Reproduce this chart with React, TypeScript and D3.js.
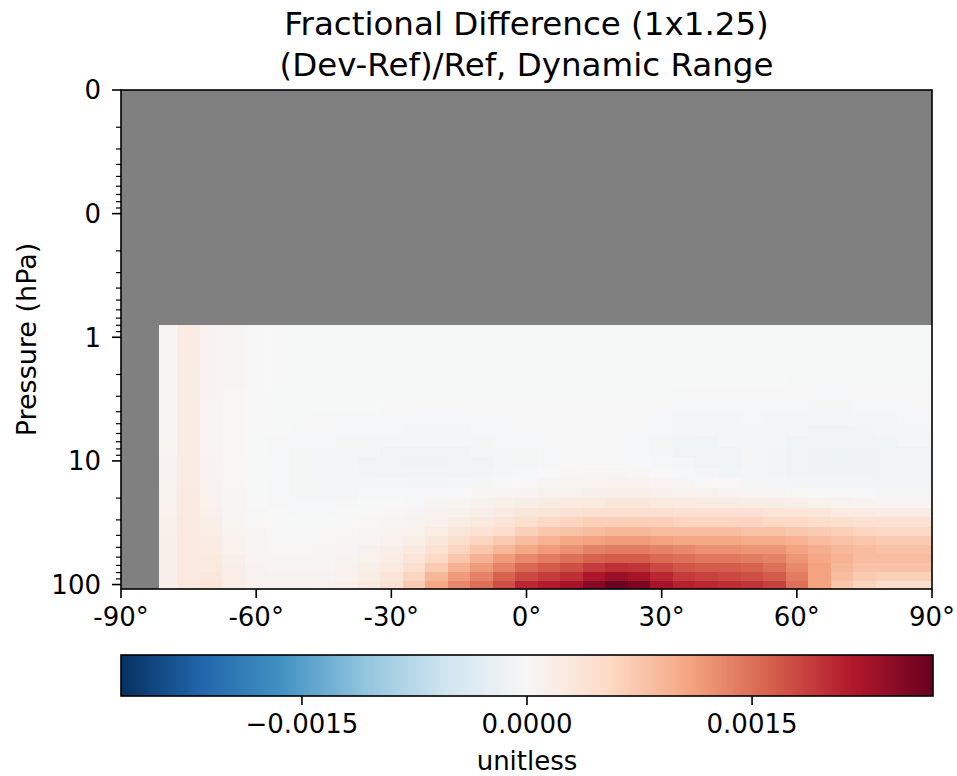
import React from 'react';
import * as d3 from 'd3';

// ---------- data ----------
const LAT_CENTERS = [-80, -75, -70, -65, -60, -55, -50, -45, -40, -35, -30, -25, -20, -15, -10, -5, 0, 5, 10, 15, 20, 25, 30, 35, 40, 45, 50, 55, 60, 65, 70, 75, 80, 85, 90];
const LAT_VALID_MIN = -81.5;
const LAT_VALID_MAX = 90;
const LAT_HALF_WIDTH = 2.5;

// level edges (hPa), bottom -> top
const PRESSURE_EDGES = [108.663, 92.3657, 78.5123, 66.6034, 56.3879, 47.6439, 40.1754, 33.81, 28.3678, 23.7304, 19.7916, 16.4571, 13.6434, 11.2769, 9.2929, 7.6198, 6.2168, 5.0468, 4.0766, 3.2764, 2.6202, 2.085, 1.6508, 1.3005, 1.0194, 0.7951];

// fractional difference in units of 1e-4, rows bottom -> top, columns = LAT_CENTERS
const VALUE_UNIT = 1e-4;
const FRAC_DIFF = [
  [1.5, 2.8, 3.5, 2, 1, 0.8, 0.8, 1, 1.5, 2.5, 4, 7, 10.5, 13, 15, 17.5, 20.5, 21.5, 22.5, 25, 27, 25.5, 22.5, 21, 20.5, 20, 19.5, 18.5, 15, 11, 7.5, 6, 5, 5, 5],
  [1.5, 2.8, 3.2, 2, 1, 0.7, 0.7, 0.8, 1.2, 2, 3.5, 6, 9, 11.5, 13.5, 16, 18, 19, 20, 22, 23.5, 22.5, 20.5, 19, 18.5, 18, 17.5, 16.5, 14, 11, 8.5, 7, 6.5, 6.5, 6.5],
  [1.5, 2.8, 2.8, 1.8, 0.8, 0.5, 0.5, 0.6, 1, 1.5, 2.5, 4.5, 7, 9.5, 11.5, 13.5, 15.5, 16.5, 17.5, 19, 20, 19.5, 18, 17, 16.5, 16.5, 16, 15, 13, 11, 9, 8, 8, 8, 8],
  [1.5, 2.8, 2.6, 1.5, 0.6, 0.3, 0.3, 0.4, 0.7, 1.2, 2, 3.5, 5.5, 7.5, 9.5, 11.5, 13, 14, 15, 16, 16.5, 16.5, 15.5, 15, 14.5, 14.5, 14, 13.5, 12, 10.5, 9.5, 8.5, 8.5, 8.5, 8.5],
  [1.5, 2.8, 2.3, 1.2, 0.5, 0.2, 0.2, 0.3, 0.5, 0.9, 1.5, 2.5, 4, 6, 7.5, 9, 10.5, 11.5, 12.5, 13.5, 14, 14, 13.5, 13, 12.5, 12.5, 12, 12, 11, 10, 9, 8.5, 8, 8, 8],
  [1.5, 2.8, 2.1, 1, 0.4, 0.1, 0.1, 0.2, 0.3, 0.6, 1, 1.8, 3, 4.5, 6, 7, 8.5, 9.5, 10.5, 11, 11.5, 11.5, 11, 10.5, 10.5, 10.5, 10, 10, 9.5, 8.5, 8, 7.5, 7, 7, 7],
  [1.4, 2.8, 1.9, 0.8, 0.3, 0, 0, 0, 0.2, 0.4, 0.7, 1.2, 2, 3, 4, 5, 6.5, 7.5, 8, 8.5, 9, 9, 8.5, 8.5, 8.5, 8.5, 8, 8, 7.5, 7, 6.5, 6, 5.5, 5.5, 5.5],
  [1.3, 2.7, 1.7, 0.6, 0.2, 0, -0.1, -0.1, 0, 0.2, 0.4, 0.7, 1.2, 2, 2.8, 3.5, 4.5, 5.5, 6, 6.5, 6.5, 6.5, 6.5, 6, 6, 6, 6, 5.5, 5.5, 5, 4.5, 4, 4, 4, 4],
  [1.2, 2.6, 1.4, 0.5, 0.1, -0.1, -0.2, -0.2, -0.1, 0, 0.2, 0.4, 0.7, 1.2, 1.8, 2.5, 3, 3.5, 4, 4.5, 4.5, 4.5, 4.5, 4, 4, 4, 4, 3.5, 3.5, 3, 2.5, 2.5, 2, 2, 2],
  [1, 2.5, 1.2, 0.4, 0, -0.2, -0.3, -0.3, -0.2, -0.1, 0, 0.1, 0.3, 0.6, 1, 1.3, 1.8, 2.2, 2.5, 2.8, 3, 3, 2.8, 2.5, 2.3, 2.2, 2, 1.8, 1.5, 1.2, 1, 0.8, 0.5, 0.5, 0.5],
  [1, 2.4, 1.1, 0.3, 0, -0.3, -0.4, -0.4, -0.4, -0.3, -0.3, -0.3, -0.2, 0, 0.3, 0.6, 0.8, 1, 1.2, 1.5, 1.6, 1.6, 1.4, 1.2, 1, 0.8, 0.6, 0.4, 0.2, 0, -0.2, -0.3, -0.4, -0.4, -0.4],
  [0.8, 2.3, 0.9, 0.2, -0.1, -0.3, -0.4, -0.5, -0.5, -0.5, -0.6, -0.7, -0.7, -0.6, -0.4, -0.2, 0, 0.3, 0.5, 0.6, 0.7, 0.7, 0.5, 0.3, 0, -0.2, -0.4, -0.6, -0.7, -0.8, -0.9, -1, -1, -0.8, -0.8],
  [0.8, 2.3, 0.8, 0.2, -0.2, -0.3, -0.4, -0.5, -0.6, -0.7, -0.9, -1, -1, -0.9, -0.7, -0.5, -0.3, 0, 0.2, 0.3, 0.3, 0.2, 0, -0.3, -0.6, -0.7, -0.6, -0.7, -0.9, -1.1, -1.2, -1.1, -1, -0.9, -0.9],
  [0.7, 2.2, 0.7, 0.2, -0.2, -0.3, -0.4, -0.5, -0.6, -0.8, -1, -1.1, -1.1, -1, -0.8, -0.6, -0.4, -0.2, 0, 0, 0, -0.1, -0.3, -0.6, -0.9, -0.8, -0.6, -0.7, -1, -1.2, -1.3, -1.2, -1, -0.9, -0.9],
  [0.6, 2.2, 0.6, 0.2, -0.1, -0.3, -0.4, -0.5, -0.5, -0.6, -0.8, -0.9, -0.9, -0.8, -0.6, -0.5, -0.4, -0.3, -0.2, -0.2, -0.2, -0.3, -0.5, -0.8, -1, -0.8, -0.6, -0.7, -1, -1.2, -1.2, -1.1, -0.9, -0.8, -0.8],
  [0.6, 2.2, 0.6, 0.2, -0.1, -0.2, -0.3, -0.3, -0.4, -0.4, -0.5, -0.6, -0.6, -0.5, -0.4, -0.3, -0.3, -0.2, -0.2, -0.2, -0.2, -0.3, -0.4, -0.7, -0.8, -0.6, -0.5, -0.6, -0.8, -1, -1, -0.9, -0.7, -0.6, -0.6],
  [0.5, 2.2, 0.6, 0.2, 0, -0.1, -0.2, -0.2, -0.3, -0.3, -0.3, -0.4, -0.4, -0.4, -0.3, -0.3, -0.2, -0.2, -0.2, -0.2, -0.2, -0.2, -0.3, -0.5, -0.6, -0.5, -0.4, -0.5, -0.6, -0.8, -0.8, -0.7, -0.5, -0.4, -0.4],
  [0.5, 2.2, 0.6, 0.2, 0, -0.1, -0.1, -0.2, -0.2, -0.2, -0.2, -0.3, -0.3, -0.3, -0.2, -0.2, -0.2, -0.2, -0.2, -0.2, -0.2, -0.2, -0.3, -0.4, -0.5, -0.4, -0.3, -0.4, -0.5, -0.6, -0.6, -0.5, -0.4, -0.3, -0.3],
  [0.5, 2.2, 0.6, 0.2, 0, -0.1, -0.1, -0.1, -0.1, -0.1, -0.2, -0.2, -0.2, -0.2, -0.2, -0.2, -0.2, -0.2, -0.2, -0.2, -0.2, -0.2, -0.2, -0.3, -0.3, -0.3, -0.2, -0.3, -0.3, -0.4, -0.4, -0.3, -0.3, -0.2, -0.2],
  [0.5, 2.2, 0.7, 0.2, 0, -0.1, -0.1, -0.1, -0.1, -0.1, -0.1, -0.1, -0.1, -0.1, -0.1, -0.1, -0.1, -0.1, -0.1, -0.1, -0.1, -0.1, -0.1, -0.2, -0.2, -0.2, -0.2, -0.2, -0.2, -0.3, -0.3, -0.2, -0.2, -0.2, -0.2],
  [0.5, 2.2, 0.7, 0.3, 0.1, 0, -0.1, -0.1, -0.1, -0.1, -0.1, -0.1, -0.1, -0.1, -0.1, -0.1, -0.1, -0.1, -0.1, -0.1, -0.1, -0.1, -0.1, -0.1, -0.1, -0.1, -0.1, -0.1, -0.2, -0.2, -0.2, -0.2, -0.2, -0.2, -0.2],
  [0.5, 2.2, 0.8, 0.3, 0.1, 0, -0.1, -0.1, -0.1, -0.1, -0.1, -0.1, -0.1, -0.1, -0.1, -0.1, -0.1, -0.1, -0.1, -0.1, -0.1, -0.1, -0.1, -0.1, -0.1, -0.1, -0.1, -0.1, -0.1, -0.1, -0.1, -0.1, -0.1, -0.1, -0.1],
  [0.5, 2.3, 0.8, 0.3, 0.1, 0, -0.1, -0.1, -0.1, -0.1, -0.1, -0.1, -0.1, -0.1, -0.1, -0.1, -0.1, -0.1, -0.1, -0.1, -0.1, -0.1, -0.1, -0.1, -0.1, -0.1, -0.1, -0.1, -0.1, -0.1, -0.1, -0.1, -0.1, -0.1, -0.1],
  [0.5, 2.3, 0.8, 0.3, 0.1, 0, -0.1, -0.1, -0.1, -0.1, -0.1, -0.1, -0.1, -0.1, -0.1, -0.1, -0.1, -0.1, -0.1, -0.1, -0.1, -0.1, -0.1, -0.1, -0.1, -0.1, -0.1, -0.1, -0.1, -0.1, -0.1, -0.1, -0.1, -0.1, -0.1],
  [0.4, 2.3, 0.8, 0.3, 0.1, 0, -0.1, -0.1, -0.1, -0.1, -0.1, -0.1, -0.1, -0.1, -0.1, -0.1, -0.1, -0.1, -0.1, -0.1, -0.1, -0.1, -0.1, -0.1, -0.1, -0.1, -0.1, -0.1, -0.1, -0.1, -0.1, -0.1, -0.1, -0.1, -0.1],
];

const VMAX = 0.002706;
const X_TICKS = [-90, -60, -30, 0, 30, 60, 90];
const Y_DOMAIN = [0.01, 108.663];
const Y_MAJOR = [0.01, 0.1, 1, 10, 100];
const Y_MAJOR_LABELS = ['0', '0', '1', '10', '100'];
const Y_MINOR_MULT = [2, 3, 4, 5, 6, 7, 8, 9];
const CBAR_TICKS = [-0.0015, 0, 0.0015];
const CBAR_LABELS = ['\u22120.0015', '0.0000', '0.0015'];
const RDBU_R = ['#053061', '#2166ac', '#4393c3', '#92c5de', '#d1e5f0', '#f7f7f7', '#fddbc7', '#f4a582', '#d6604d', '#b2182b', '#67001f'];
const TITLE_LINES = ['Fractional Difference (1x1.25)', '(Dev-Ref)/Ref, Dynamic Range'];

// ---------- layout ----------
const W = 957, H = 776;
const PL = 121, PR = 932, PT = 90, PB = 589;
const CB_L = 121, CB_R = 933, CB_T = 655, CB_B = 696;
const FONT = 'DejaVu Sans, sans-serif';
const FS = 26;

export default function App() {
  const x = d3.scaleLinear().domain([-90, 90]).range([PL, PR]);
  const y = d3.scaleLog().domain(Y_DOMAIN).range([PT, PB]);
  const color = d3
    .scaleLinear<string>()
    .domain(d3.range(11).map((i) => -VMAX + (2 * VMAX * i) / 10))
    .range(RDBU_R)
    .interpolate(d3.interpolateRgb)
    .clamp(true);
  const cbx = d3.scaleLinear().domain([-VMAX, VMAX]).range([CB_L, CB_R]);

  const cells: JSX.Element[] = [];
  FRAC_DIFF.forEach((row, k) => {
    const yTop = y(PRESSURE_EDGES[k + 1]);
    const yBot = y(PRESSURE_EDGES[k]);
    row.forEach((v, j) => {
      const lat = LAT_CENTERS[j];
      const x0 = x(Math.max(LAT_VALID_MIN, lat - LAT_HALF_WIDTH));
      const x1 = x(Math.min(LAT_VALID_MAX, lat + LAT_HALF_WIDTH));
      cells.push(
        <rect key={`${k}-${j}`} x={x0} y={yTop} width={x1 - x0 + 0.5} height={yBot - yTop + 0.5} fill={color(v * VALUE_UNIT)} />
      );
    });
  });

  const minorTicks: number[] = [];
  Y_MAJOR.forEach((d) => Y_MINOR_MULT.forEach((m) => { const v = d * m; if (v > Y_DOMAIN[0] && v < Y_DOMAIN[1]) minorTicks.push(v); }));

  return (
    <svg width={W} height={H} style={{ position: 'absolute', left: 0, top: 0, background: '#fff' }} fontFamily={FONT}>
      <defs>
        <linearGradient id="cbgrad" x1="0" x2="1" y1="0" y2="0">
          {RDBU_R.map((c, i) => (
            <stop key={i} offset={`${(i / 10) * 100}%`} stopColor={c} />
          ))}
        </linearGradient>
        <clipPath id="plotclip">
          <rect x={PL} y={PT} width={PR - PL} height={PB - PT} />
        </clipPath>
      </defs>
      {/* title */}
      {TITLE_LINES.map((t, i) => (
        <text key={i} x={(PL + PR) / 2} y={35 + i * 41} textAnchor="middle" fontSize={32.5} fill="#000">{t}</text>
      ))}
      {/* plot background (missing data) */}
      <rect x={PL} y={PT} width={PR - PL} height={PB - PT} fill="#808080" />
      <g clipPath="url(#plotclip)" shapeRendering="crispEdges">{cells}</g>
      <rect x={PL} y={PT} width={PR - PL} height={PB - PT} fill="none" stroke="#000" strokeWidth={1.6} />
      {/* x axis */}
      {X_TICKS.map((t) => (
        <g key={t}>
          <line x1={x(t)} x2={x(t)} y1={PB} y2={PB + 9} stroke="#000" strokeWidth={1.6} />
          <text x={x(t)} y={PB + 37} textAnchor="middle" fontSize={FS}>{`${t}\u00b0`}</text>
        </g>
      ))}
      {/* y axis */}
      {Y_MAJOR.map((t, i) => (
        <g key={t}>
          <line x1={PL - 9} x2={PL} y1={y(t)} y2={y(t)} stroke="#000" strokeWidth={1.6} />
          <text x={PL - 20} y={y(t) + 9.4} textAnchor="end" fontSize={FS}>{Y_MAJOR_LABELS[i]}</text>
        </g>
      ))}
      {minorTicks.map((t) => (
        <line key={t} x1={PL - 5} x2={PL} y1={y(t)} y2={y(t)} stroke="#000" strokeWidth={1.2} />
      ))}
      <text transform={`translate(36,${(PT + PB) / 2}) rotate(-90)`} textAnchor="middle" fontSize={27}>Pressure (hPa)</text>
      {/* colorbar */}
      <rect x={CB_L} y={CB_T} width={CB_R - CB_L} height={CB_B - CB_T} fill="url(#cbgrad)" stroke="#000" strokeWidth={1.6} />
      {CBAR_TICKS.map((t, i) => (
        <g key={t}>
          <line x1={cbx(t)} x2={cbx(t)} y1={CB_B} y2={CB_B + 9} stroke="#000" strokeWidth={1.6} />
          <text x={cbx(t)} y={CB_B + 37} textAnchor="middle" fontSize={FS}>{CBAR_LABELS[i]}</text>
        </g>
      ))}
      <text x={(CB_L + CB_R) / 2} y={770} textAnchor="middle" fontSize={FS}>unitless</text>
    </svg>
  );
}
